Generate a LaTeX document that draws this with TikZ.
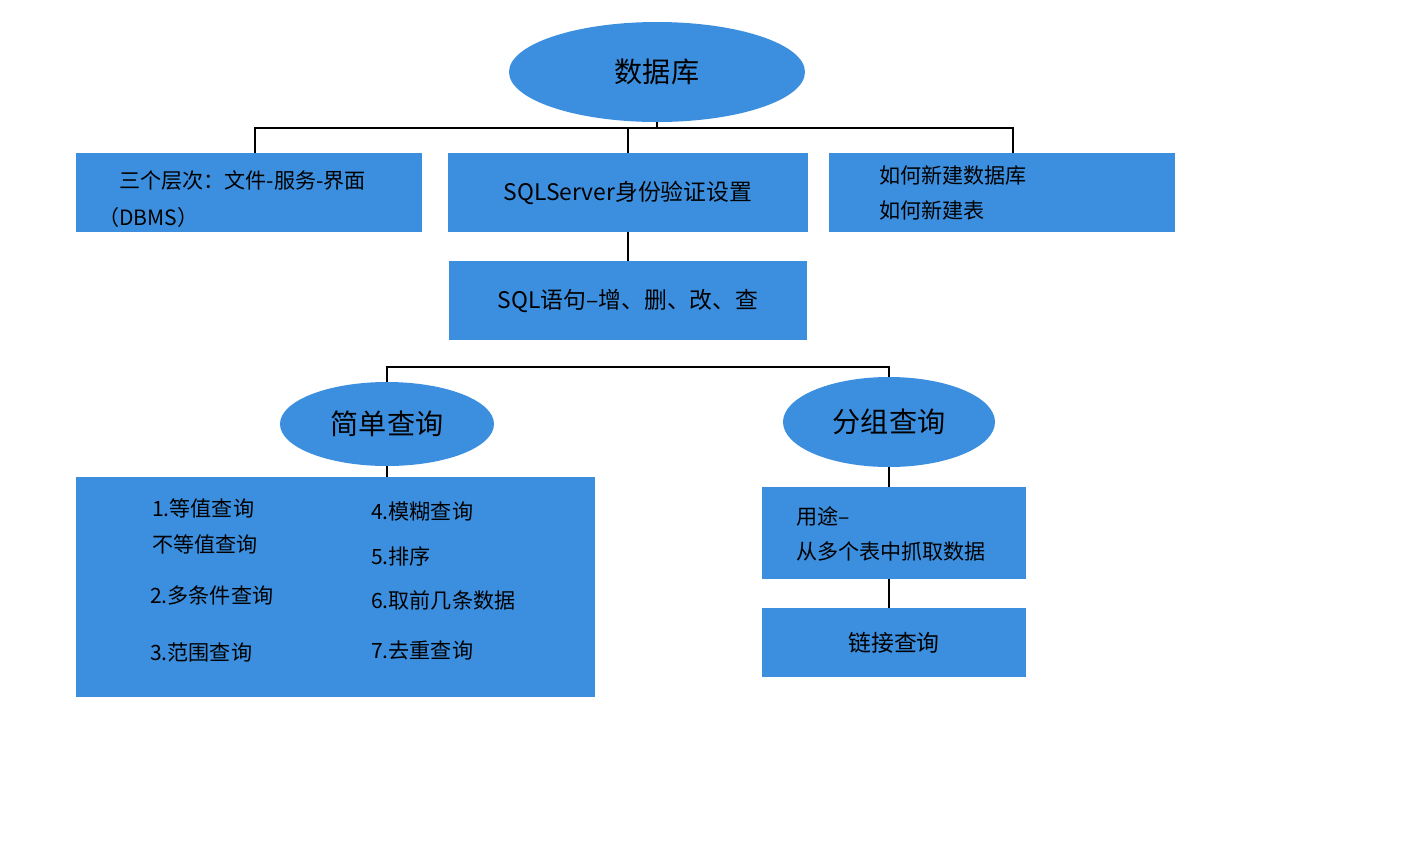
\documentclass[tikz,border=0pt]{standalone}
\usepackage{fontspec}
\setmainfont{Noto Sans CJK SC}
\usetikzlibrary{shapes.geometric}
\definecolor{dbblue}{HTML}{3C8FDF}
\tikzset{
  bluebox/.style={fill=dbblue,draw=none,inner sep=0pt},
  blueoval/.style={ellipse,fill=dbblue,draw=none,inner sep=0pt},
  boxtext/.style={font=\fontsize{12}{14}\selectfont,anchor=west},
  link/.style={line width=1.3pt}
}
\begin{document}
\begin{tikzpicture}[x=0.02cm,y=-0.02cm]
    \useasboundingbox (0,0) rectangle (1417,850);
    \fill[white] (0,0) rectangle (1417,850);

    \node[blueoval,minimum width=296*0.02cm,minimum height=100*0.02cm,font=\fontsize{16}{18}\selectfont] (DB) at (657,72) {数据库};

    \node[bluebox,minimum width=346*0.02cm,minimum height=79*0.02cm] (BA) at (249,192.5) {};
    \node[bluebox,minimum width=360*0.02cm,minimum height=79*0.02cm,font=\fontsize{13}{15}\selectfont] (BB) at (628,192.5) {SQLServer身份验证设置};
    \node[bluebox,minimum width=346*0.02cm,minimum height=79*0.02cm] (BC) at (1002,192.5) {};
    \node[boxtext] (TA) at (113,180) {三个层次：文件-服务-界面};
    \node[boxtext] (TB) at (92,217) {（DBMS）};
    \node[boxtext] (TC) at (873,175) {如何新建数据库};
    \node[boxtext] (TD) at (873,210) {如何新建表};

    \node[bluebox,minimum width=358*0.02cm,minimum height=79*0.02cm,font=\fontsize{13}{15}\selectfont] (SQ) at (628,300.5) {SQL语句--增、删、改、查};

    \node[blueoval,minimum width=214*0.02cm,minimum height=84*0.02cm,font=\fontsize{16}{18}\selectfont] (JD) at (387,424) {简单查询};
    \node[blueoval,minimum width=212*0.02cm,minimum height=90*0.02cm,font=\fontsize{16}{18}\selectfont] (FZ) at (889,422) {分组查询};

    \node[bluebox,minimum width=519*0.02cm,minimum height=220*0.02cm] (BS) at (335.5,587) {};
    \node[boxtext] (S1) at (146,508) {1.等值查询};
    \node[boxtext] (S2) at (146,544) {不等值查询};
    \node[boxtext] (S3) at (144,595) {2.多条件查询};
    \node[boxtext] (S4) at (144,652) {3.范围查询};
    \node[boxtext] (S5) at (365,512) {4.模糊查询};
    \node[boxtext] (S6) at (365,556) {5.排序};
    \node[boxtext] (S7) at (365,600) {6.取前几条数据};
    \node[boxtext] (S8) at (365,650) {7.去重查询};

    \node[bluebox,minimum width=264*0.02cm,minimum height=92*0.02cm] (YT) at (894,533) {};
    \node[boxtext] (T1) at (790,516) {用途--};
    \node[boxtext] (T2) at (790,551) {从多个表中抓取数据};
    \node[bluebox,minimum width=264*0.02cm,minimum height=69*0.02cm,font=\fontsize{13}{15}\selectfont] (LJ) at (894,642.5) {链接查询};

    \draw[link] (DB.south) -- (657,128);
    \draw[link] (BA.north -| 255,0) -- (255,128) -- (1013,128) -- (BC.north -| 1013,0);
    \draw[link] (BB.north) -- (628,128);
    \draw[link] (BB.south) -- (SQ.north);
    \draw[link] (JD.north) -- (387,367) -- (889,367) -- (FZ.north);
    \draw[link] (JD.south) -- (BS.north -| JD.south);
    \draw[link] (FZ.south) -- (YT.north -| FZ.south);
    \draw[link] (YT.south -| FZ.south) -- (LJ.north -| FZ.south);
\end{tikzpicture}
\end{document}
